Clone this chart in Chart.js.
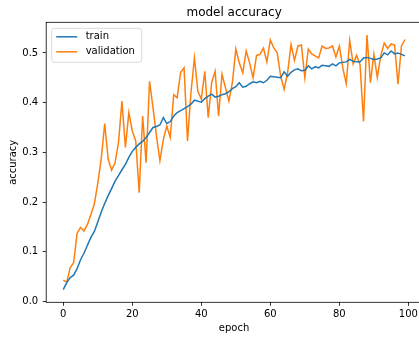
<!DOCTYPE html>
<html>
<head>
<meta charset="utf-8">
<script src="https://cdn.jsdelivr.net/npm/chart.js@4"></script>
<style>
  html, body { margin: 0; padding: 0; overflow: hidden; background: #fff; width: 419px; height: 337px; }
  canvas { display: block; }
</style>
</head>
<body>
<canvas id="acc" width="422" height="337"></canvas>
<script>
// Per-epoch accuracy of the model on the training and validation sets
const epochs = Array.from({ length: 100 }, (_, i) => i);

const trainAcc = [
  0.024, 0.038, 0.048, 0.053, 0.066, 0.084, 0.097, 0.113, 0.129, 0.141,
  0.160, 0.180, 0.197, 0.213, 0.227, 0.242, 0.253, 0.265, 0.276, 0.290,
  0.302, 0.310, 0.317, 0.322, 0.330, 0.340, 0.350, 0.352, 0.355, 0.370,
  0.358, 0.362, 0.373, 0.380, 0.384, 0.388, 0.392, 0.397, 0.405, 0.403,
  0.401, 0.408, 0.413, 0.417, 0.411, 0.413, 0.416, 0.418, 0.422, 0.428,
  0.432, 0.440, 0.431, 0.433, 0.438, 0.442, 0.440, 0.443, 0.440, 0.445,
  0.453, 0.452, 0.451, 0.450, 0.462, 0.453, 0.461, 0.466, 0.468, 0.464,
  0.465, 0.474, 0.468, 0.472, 0.470, 0.475, 0.474, 0.473, 0.478, 0.474,
  0.480, 0.481, 0.482, 0.487, 0.483, 0.482, 0.482, 0.490, 0.491, 0.489,
  0.487, 0.488, 0.490, 0.500, 0.496, 0.504, 0.498, 0.500, 0.497, 0.494
];

const valAcc = [
  0.043, 0.039, 0.068, 0.078, 0.137, 0.149, 0.142, 0.155, 0.175, 0.196,
  0.238, 0.287, 0.358, 0.287, 0.264, 0.279, 0.320, 0.403, 0.310, 0.380,
  0.343, 0.323, 0.219, 0.373, 0.279, 0.443, 0.390, 0.333, 0.283, 0.326,
  0.353, 0.330, 0.416, 0.410, 0.461, 0.470, 0.323, 0.420, 0.490, 0.423,
  0.407, 0.463, 0.370, 0.440, 0.463, 0.373, 0.457, 0.430, 0.403, 0.440,
  0.508, 0.480, 0.460, 0.504, 0.480, 0.450, 0.495, 0.497, 0.510, 0.482,
  0.526, 0.510, 0.500, 0.453, 0.427, 0.460, 0.517, 0.485, 0.514, 0.516,
  0.450, 0.508, 0.498, 0.494, 0.490, 0.514, 0.509, 0.510, 0.514, 0.492,
  0.514, 0.470, 0.438, 0.525, 0.478, 0.495, 0.476, 0.362, 0.536, 0.440,
  0.497, 0.451, 0.494, 0.520, 0.509, 0.518, 0.516, 0.437, 0.514, 0.527
];

const xTicks = [0, 20, 40, 60, 80, 100];
const yTicks = [0.0, 0.1, 0.2, 0.3, 0.4, 0.5];

const FONT = 'DejaVu Sans';

// Axes frame (all four spines) drawn over the data lines
const framePlugin = {
  id: 'frame',
  afterDatasetsDraw(chart) {
    const { ctx, chartArea: a } = chart;
    ctx.save();
    ctx.strokeStyle = '#000';
    ctx.lineWidth = 0.8;
    ctx.strokeRect(a.left, a.top, a.right - a.left, a.bottom - a.top);
    ctx.restore();
  }
};

// Legend box in the upper-left corner of the axes
const legendPlugin = {
  id: 'cornerLegend',
  afterDraw(chart) {
    const { ctx, chartArea: a } = chart;
    const x = a.left + 5.5, y = a.top + 6;
    const w = 90, h = 34, r = 2.5;
    ctx.save();
    ctx.beginPath();
    ctx.roundRect(x, y, w, h, r);
    ctx.fillStyle = 'rgba(255,255,255,0.8)';
    ctx.fill();
    ctx.strokeStyle = '#d0d0d0';
    ctx.lineWidth = 0.8;
    ctx.stroke();
    ctx.font = '10px "' + FONT + '"';
    ctx.textBaseline = 'middle';
    ctx.fillStyle = '#000';
    chart.data.datasets.forEach((ds, i) => {
      const ly = y + 8.5 + i * 15;
      ctx.beginPath();
      ctx.moveTo(x + 4.5, ly);
      ctx.lineTo(x + 25.5, ly);
      ctx.strokeStyle = ds.borderColor;
      ctx.lineWidth = 1.5;
      ctx.stroke();
      ctx.fillText(ds.label, x + 34, ly);
    });
    ctx.restore();
  }
};

const tickFont = { family: FONT, size: 10 };
const titleFont = { family: FONT, size: 10 };

new Chart(document.getElementById('acc').getContext('2d'), {
  type: 'line',
  data: {
    datasets: [
      {
        label: 'train',
        data: epochs.map((e, i) => ({ x: e, y: trainAcc[i] })),
        borderColor: '#1f77b4',
        borderWidth: 1.5,
        pointRadius: 0,
        tension: 0,
        fill: false
      },
      {
        label: 'validation',
        data: epochs.map((e, i) => ({ x: e, y: valAcc[i] })),
        borderColor: '#ff7f0e',
        borderWidth: 1.5,
        pointRadius: 0,
        tension: 0,
        fill: false
      }
    ]
  },
  options: {
    responsive: false,
    animation: false,
    devicePixelRatio: 1,
    layout: { padding: 0 },
    plugins: {
      legend: { display: false },
      tooltip: { enabled: false },
      title: {
        display: true,
        text: 'model accuracy',
        fullSize: false,
        color: '#000',
        font: { family: FONT, size: 12, weight: 'normal' },
        padding: { top: 6, bottom: 1.9 }
      }
    },
    scales: {
      x: {
        type: 'linear',
        min: -4.95,
        max: 103.95,
        afterBuildTicks: s => { s.ticks = xTicks.map(v => ({ value: v })); },
        afterFit: s => { s.height = 34.7; },
        border: { display: false },
        grid: { drawOnChartArea: false, drawTicks: true, tickLength: 3.5, tickColor: '#000', tickWidth: 0.8 },
        ticks: { color: '#000', font: tickFont, padding: 2.2, autoSkip: false, maxRotation: 0, callback: v => String(v) },
        title: { display: true, text: 'epoch', color: '#000', font: titleFont, padding: { top: 0, bottom: 3 } }
      },
      y: {
        type: 'linear',
        min: -0.0016,
        max: 0.5616,
        afterBuildTicks: s => { s.ticks = yTicks.map(v => ({ value: v })); },
        afterFit: s => { s.width = 46.2; },
        border: { display: false },
        grid: { drawOnChartArea: false, drawTicks: true, tickLength: 3.5, tickColor: '#000', tickWidth: 0.8 },
        ticks: { color: '#000', font: tickFont, padding: 4.5, autoSkip: false, callback: v => v.toFixed(1) },
        title: { display: true, text: 'accuracy', color: '#000', font: titleFont, padding: { top: 7, bottom: 0 } }
      }
    }
  },
  plugins: [framePlugin, legendPlugin]
});
</script>
</body>
</html>
